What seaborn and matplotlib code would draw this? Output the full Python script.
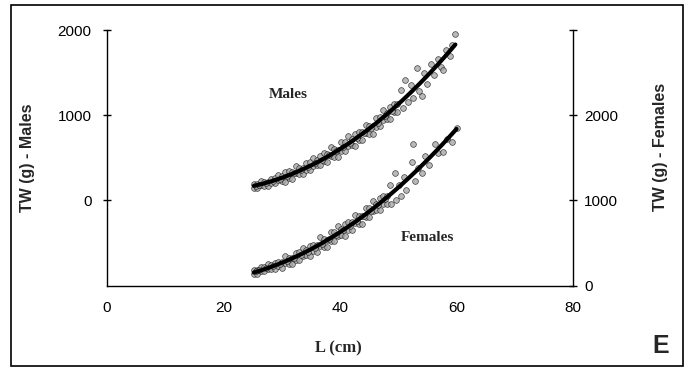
import matplotlib
matplotlib.use("Agg")
import matplotlib.pyplot as plt
import seaborn as sns
import pandas as pd
from matplotlib.patches import Rectangle

# Total length (cm) and total weight (g), males
male_length = [25.2, 25.2, 25.8, 25.8, 26.4, 26.4, 27.0, 27.0, 27.6, 27.6, 28.2, 28.2, 28.8, 28.8,
               29.4, 29.4, 30.0, 30.0, 30.6, 30.6, 31.2, 31.2, 31.8, 31.8, 32.4, 32.4, 33.0, 33.0,
               33.6, 33.6, 34.2, 34.2, 34.8, 34.8, 35.4, 35.4, 36.0, 36.0, 36.6, 36.6, 37.2, 37.2,
               37.8, 37.8, 38.4, 38.4, 39.0, 39.0, 39.6, 39.6, 40.2, 40.2, 40.8, 40.8, 41.4, 41.4,
               42.0, 42.0, 42.6, 42.6, 43.2, 43.2, 43.8, 43.8, 44.4, 44.4, 45.0, 45.0, 45.6, 45.6,
               46.2, 46.2, 46.8, 46.8, 47.4, 47.4, 48.0, 48.0, 48.6, 48.6, 49.2, 49.2, 49.8, 49.8,
               25.5, 26.1, 27.3, 28.5, 29.7, 30.9, 32.1, 33.3, 34.5, 35.7, 36.9, 38.1, 39.3, 40.5,
               41.7, 42.9, 44.1, 45.3, 46.5, 47.7, 48.9,
               50.4, 50.8, 51.2, 51.6, 52.2, 52.6, 53.2, 53.6, 54.0, 54.4, 55.0, 55.6, 56.2, 56.8,
               57.4, 57.7, 58.2, 58.8, 59.2, 59.8]
male_weight = [193, 145, 187, 140, 232, 182, 218, 170, 215, 170, 257, 207, 261, 206,
               300, 240, 286, 226, 329, 217, 342, 266, 332, 256, 400, 320, 382, 306,
               376, 304, 442, 362, 446, 358, 502, 406, 472, 412, 522, 410, 552, 457,
               540, 445, 623, 523, 602, 507, 596, 506, 682, 582, 688, 578, 759, 639,
               720, 645, 783, 643, 806, 711, 799, 704, 887, 787, 872, 777, 874, 784,
               966, 866, 980, 870, 1059, 939, 1030, 955, 1101, 961, 1132, 1037, 1133, 1038,
               168, 178, 205, 232, 250, 290, 318, 362, 392, 440, 476, 530, 580, 630,
               670, 735, 790, 850, 910, 985, 1050,
               1290, 1090, 1415, 1160, 1360, 1200, 1550, 1280, 1220, 1490, 1370, 1600, 1470, 1660,
               1560, 1530, 1770, 1700, 1820, 1955]

# Total length (cm) and total weight (g), females
female_length = [25.2, 25.2, 25.8, 25.8, 26.4, 26.4, 27.0, 27.0, 27.6, 27.6, 28.2, 28.2, 28.8, 28.8,
                 29.4, 29.4, 30.0, 30.0, 30.6, 30.6, 31.2, 31.2, 31.8, 31.8, 32.4, 32.4, 33.0, 33.0,
                 33.6, 33.6, 34.2, 34.2, 34.8, 34.8, 35.4, 35.4, 36.0, 36.0, 36.6, 36.6, 37.2, 37.2,
                 37.8, 37.8, 38.4, 38.4, 39.0, 39.0, 39.6, 39.6, 40.2, 40.2, 40.8, 40.8, 41.4, 41.4,
                 42.0, 42.0, 42.6, 42.6, 43.2, 43.2, 43.8, 43.8, 44.4, 44.4, 45.0, 45.0, 45.6, 45.6,
                 46.2, 46.2, 46.8, 46.8, 47.4, 47.4, 48.0, 48.0,
                 25.5, 26.1, 27.3, 28.5, 29.7, 30.9, 32.1, 33.3, 34.5, 35.7, 36.9, 38.1, 39.3, 40.5,
                 41.7, 42.9, 44.1, 45.3, 46.5, 47.7,
                 48.6, 48.8, 49.4, 49.6, 50.2, 50.5, 51.0, 51.4, 52.3, 52.5, 52.8, 53.4, 54.0, 54.6,
                 55.2, 56.3, 56.8, 57.7, 58.4, 59.2, 60.0]
female_weight = [188, 140, 183, 138, 223, 173, 223, 168, 258, 198, 237, 200, 268, 198,
                 280, 232, 282, 206, 346, 266, 327, 251, 320, 248, 386, 306, 390, 302,
                 446, 350, 414, 354, 464, 352, 482, 406, 476, 400, 565, 465, 545, 450,
                 540, 450, 626, 526, 632, 522, 703, 583, 665, 590, 727, 587, 750, 655,
                 743, 648, 831, 731, 816, 721, 816, 726, 906, 806, 916, 806, 993, 873,
                 960, 885, 1027, 887, 1056, 961, 1055, 960,
                 172, 185, 202, 230, 255, 285, 322, 360, 400, 445, 492, 545, 595, 650,
                 705, 760, 820, 880, 945, 1012,
                 1177, 960, 1316, 1010, 1180, 1050, 1280, 1120, 1450, 1667, 1230, 1380, 1320, 1520,
                 1420, 1667, 1560, 1566, 1720, 1683, 1855]

x_ticks = [0, 20, 40, 60, 80]
male_ticks = [0, 1000, 2000]
female_ticks = [0, 1000, 2000, 3000]
female_tick_labels = ["0", "1000", "2000", ""]

males = pd.DataFrame({"L": male_length, "TW": male_weight})
females = pd.DataFrame({"L": female_length, "TW": female_weight})

sns.set_style("white")
plt.rcParams["font.family"] = ["Liberation Sans", "DejaVu Sans"]

fig = plt.figure(figsize=(6.85, 3.69), dpi=100)
ax = fig.add_axes([107 / 685, 83.4 / 369, 466 / 685, 255.6 / 369])
ax2 = ax.twinx()

scatter_style = dict(marker="s", s=17, facecolor="#a8a8a8", edgecolor="#1a1a1a", linewidths=0.5)
line_style = dict(color="black", lw=3.0)

sns.regplot(data=males, x="L", y="TW", order=2, ci=None, ax=ax,
            scatter_kws=scatter_style, line_kws=line_style)
sns.regplot(data=females, x="L", y="TW", order=2, ci=None, ax=ax2,
            scatter_kws=scatter_style, line_kws=line_style)

ax.set_xlim(0, 80)
ax.set_ylim(-1000, 2000)
ax2.set_ylim(0, 3000)
ax.set_xticks(x_ticks)
ax.set_yticks(male_ticks)
ax2.set_yticks(female_ticks)
ax2.set_yticklabels(female_tick_labels)

for a in (ax, ax2):
    a.spines["top"].set_visible(False)
    for s in a.spines.values():
        s.set_color("black")
        s.set_linewidth(1.0)
    a.tick_params(direction="inout", length=6, width=1.0, colors="black", labelsize=11)
    a.grid(False)
ax.spines["right"].set_visible(False)
ax2.spines["left"].set_visible(False)
ax2.spines["bottom"].set_visible(False)
ax.tick_params(axis="x", pad=8)
ax.tick_params(axis="y", pad=8)
ax2.tick_params(axis="y", pad=5)

ax.set_xlabel("L (cm)", family="Liberation Serif", fontweight="bold", fontsize=12)
ax.xaxis.set_label_coords(0.496, -0.213)
ax.set_ylabel("TW (g) - Males", fontweight="bold", fontsize=11.5)
ax.yaxis.set_label_coords(-0.1545, 0.5)
ax2.set_ylabel("TW (g) - Females", fontweight="bold", fontsize=11.5, rotation=90)
ax2.yaxis.set_label_coords(1.172, 0.542)

ax.text(31.1, 1240, "Males", family="Liberation Serif", fontweight="bold",
        fontsize=11, ha="center", va="center")
ax2.text(55.1, 570, "Females", family="Liberation Serif", fontweight="bold",
         fontsize=11, ha="center", va="center")

fig.text(661 / 685, 1 - 346 / 369, "E", fontweight="bold", fontsize=18,
         ha="center", va="center")

# outer frame around the panel
fig.patches.append(Rectangle((11 / 685, 3 / 369), 672 / 685, 361 / 369,
                             transform=fig.transFigure, fill=False,
                             edgecolor="black", linewidth=1.2))

fig.savefig("out.png", dpi=100)
